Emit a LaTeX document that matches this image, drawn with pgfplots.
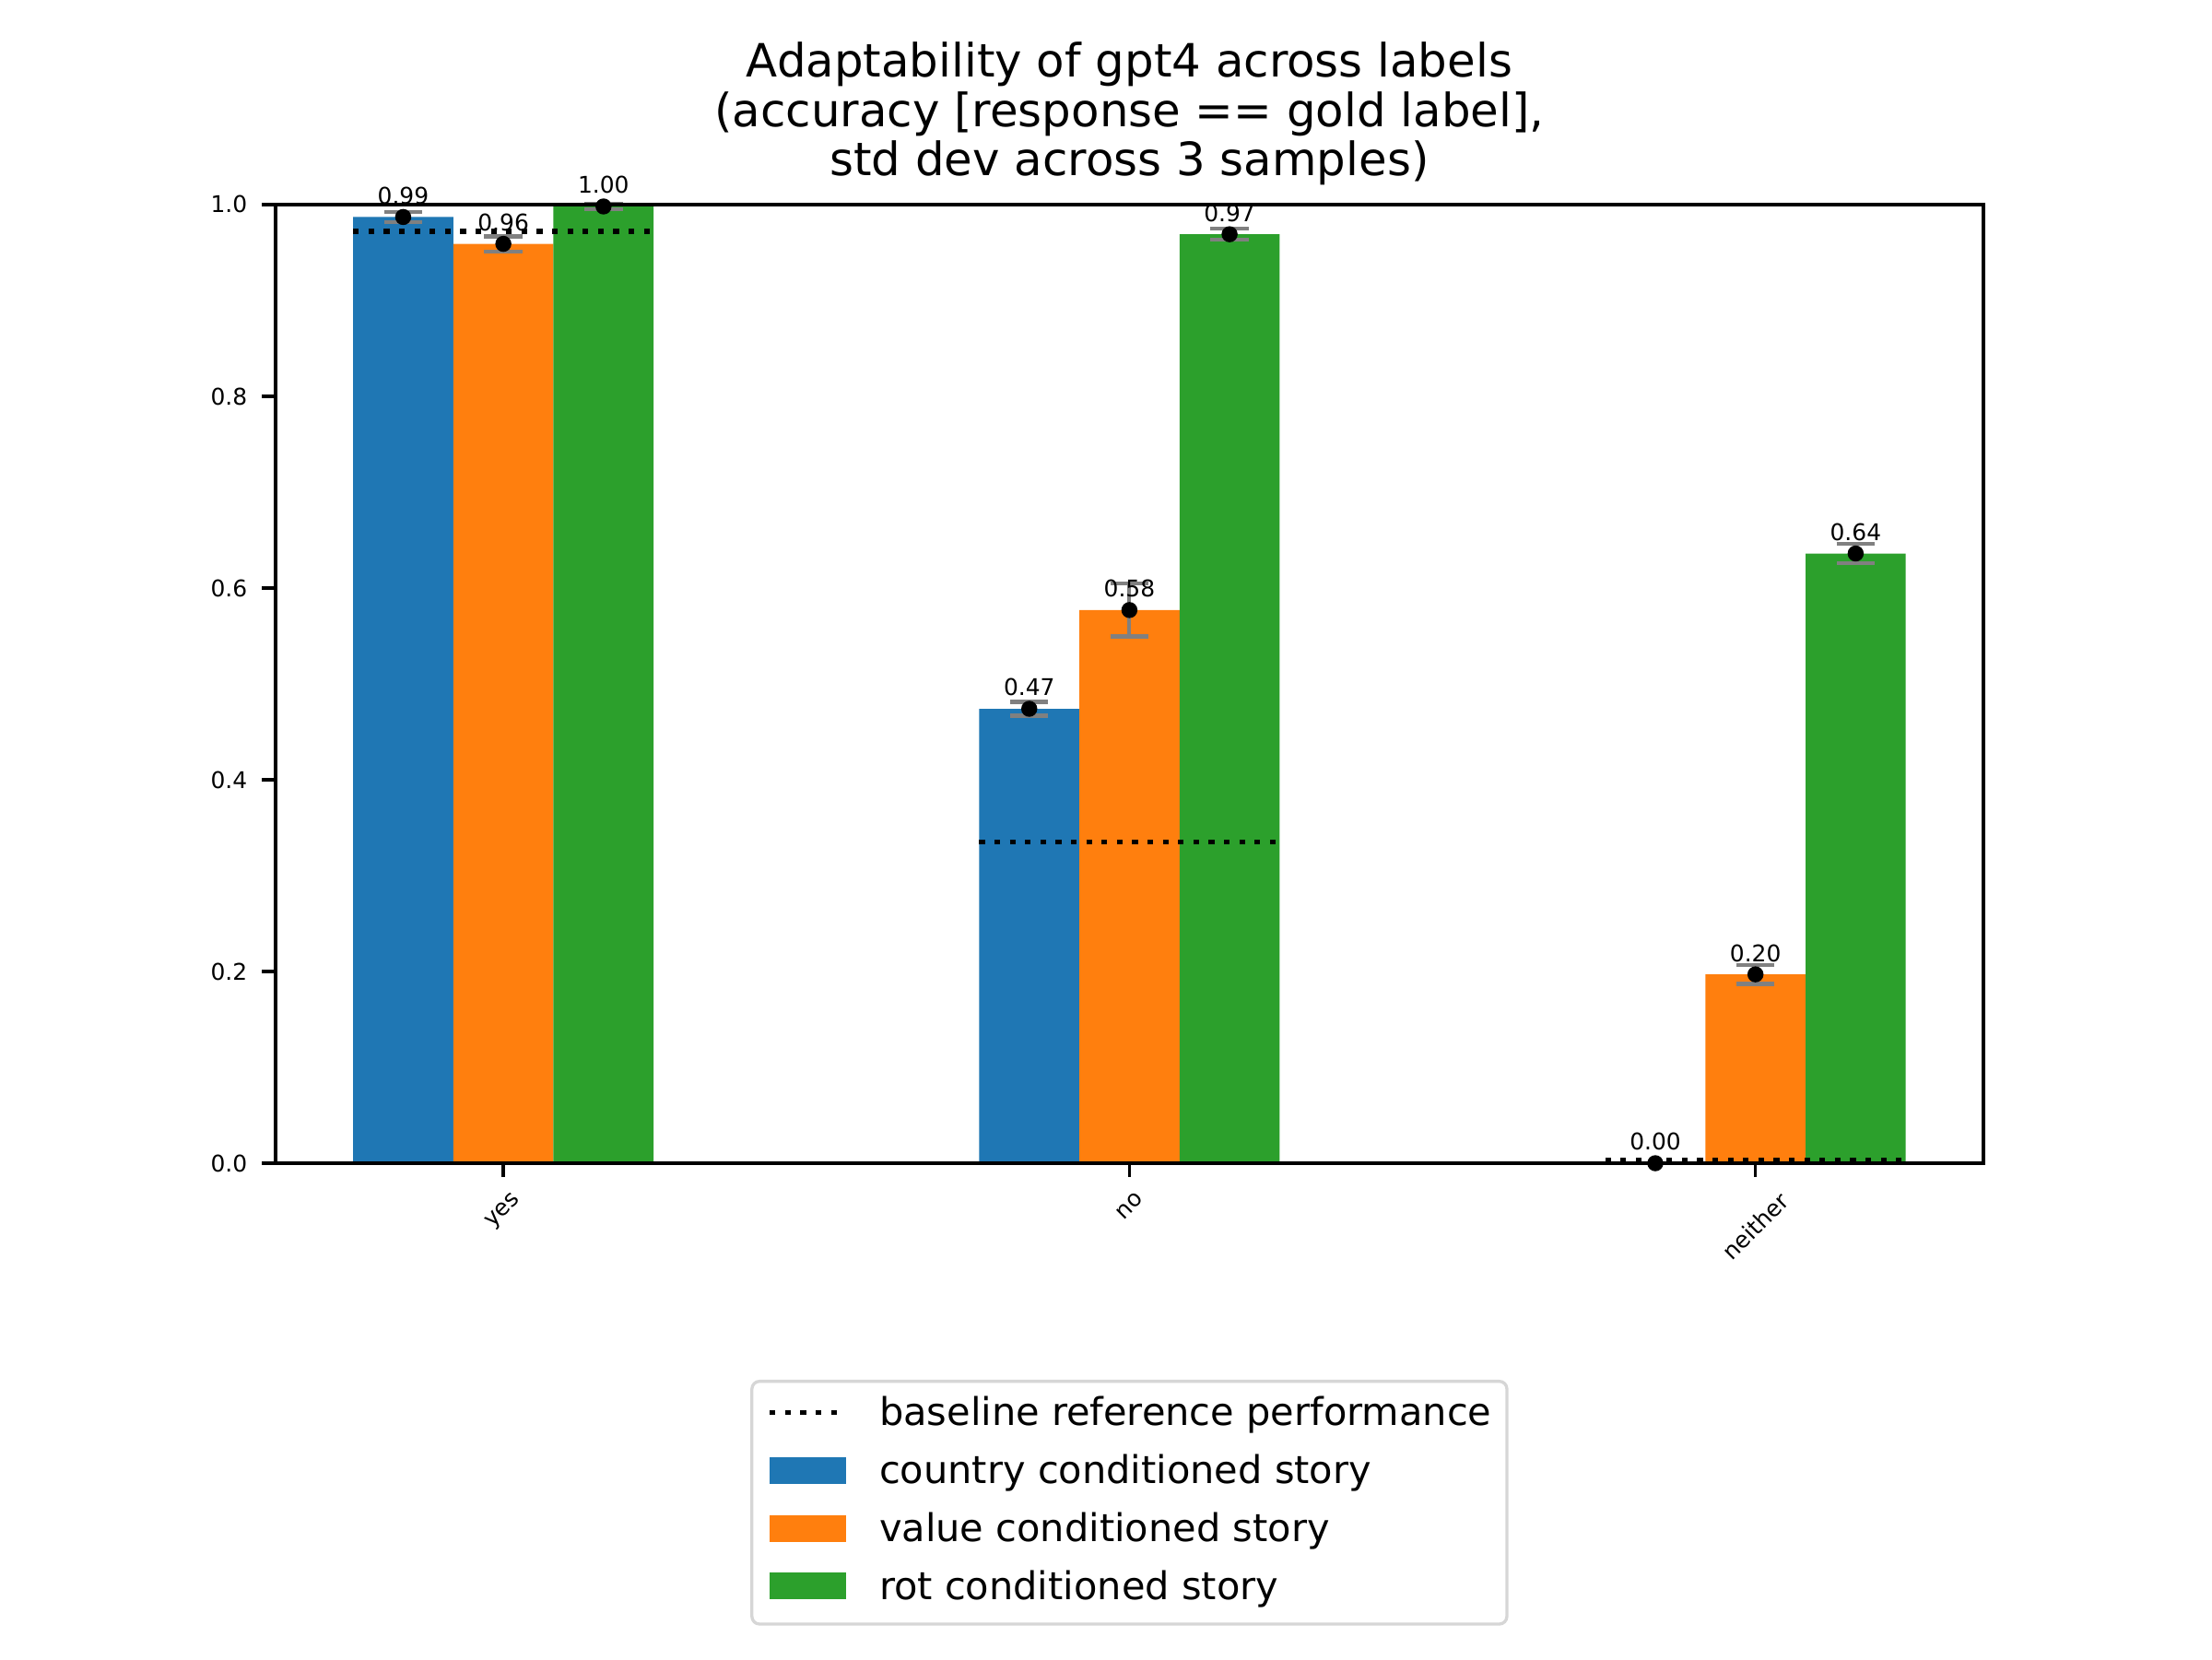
\documentclass[border=0pt]{standalone}
\usepackage{fontspec}
\setmainfont{DejaVu Sans}
\usepackage{graphicx}
\usepackage{pgfplots}
\usepackage{pgfplotstable}
\pgfplotsset{compat=1.18}
\definecolor{c1}{HTML}{1F77B4}
\definecolor{c2}{HTML}{FF7F0E}
\definecolor{c3}{HTML}{2CA02C}
\definecolor{eb}{HTML}{808080}
\definecolor{lg}{HTML}{D6D6D6}

\pgfplotstableread{
x y e label
-0.16 0.987 0.0053 0.99
0.84 0.474 0.0072 0.47
1.84 0.000 0.0 0.00
}\country
\pgfplotstableread{
x y e label
0 0.959 0.0078 0.96
1 0.577 0.0275 0.58
2 0.197 0.0100 0.20
}\valuet
\pgfplotstableread{
x y e label
0.16 0.998 0.003 1.00
1.16 0.969 0.006 0.97
2.16 0.636 0.0102 0.64
}\rot

\pgfplotsset{
  dotstyle/.style={forget plot, only marks, mark=*, mark size=1.9pt, black,
  nodes near coords, point meta=explicit symbolic,
  nodes near coords style={font=\fontsize{6}{7}\selectfont, anchor=base, inner sep=0pt, yshift=3.4pt, black},
  error bars/.cd, y dir=both, y explicit,
  error bar style={eb, line width=1pt},
  error mark options={eb, rotate=90, mark size=5pt, line width=1pt}},
  basestyle/.style={forget plot, black, line width=1.3pt, dash pattern=on 1.5pt off 2.5pt},
  baselegend/.style={legend image code/.code={\draw[black, sharp corners, line width=1.3pt, dash pattern=on 1.5pt off 2.5pt] (0pt,0.9pt) -- (20pt,0.9pt);}},
  barlegend/.style={legend image code/.code={\fill[##1, sharp corners] (0pt,-2.6pt) rectangle (20pt,4.4pt);}},
}

\begin{document}
\begin{tikzpicture}
\begin{axis}[
  name=ax,
  scale only axis,
  width=446.4pt, height=250.56pt,
  xmin=-0.364, xmax=2.364,
  ymin=0, ymax=1,
  clip=false,
  axis on top,
  xtick={0,1,2},
  xticklabels={\rotatebox{45}{yes},\rotatebox{45}{no},\rotatebox{45}{neither}},
  ytick={0,0.2,0.4,0.6,0.8,1.0},
  yticklabel style={/pgf/number format/fixed, /pgf/number format/fixed zerofill, /pgf/number format/precision=1},
  /pgf/number format/assume math mode=true,
  tick label style={font=\fontsize{6}{7}\selectfont, inner sep=0pt},
  xticklabel style={anchor=north, yshift=-3.6pt},
  yticklabel style={anchor=east, xshift=-3.7pt},
  tick align=outside,
  xtick pos=bottom, ytick pos=left,
  major tick length=3.5pt,
  every tick/.style={black, line width=0.8pt},
  axis line style={line width=0.8pt},
  every axis title/.style={at={(0.5,1)}, anchor=south, inner sep=0pt, yshift=4.8pt, align=center, font=\fontsize{12}{12.9}\selectfont},
  title={Adaptability of gpt4 across labels\\(accuracy [response == gold label],\\std dev across 3 samples)},
  legend cell align=left,
  legend style={at={(0.5,0)}, anchor=north, yshift=-56.6pt, draw=lg, line width=0.8pt, rounded corners=2pt, fill=white,
    font=\fontsize{10}{12}\selectfont, inner xsep=4pt, inner ysep=4pt, row sep=5.15pt,
    nodes={inner sep=0pt, text height=7.6pt, text depth=2.4pt},
    /tikz/every odd column/.append style={column sep=8pt}},
]
\addlegendimage{baselegend}
\addlegendentry{baseline reference performance}

\addplot[ybar, bar width=0.16, bar shift=0pt, draw=none, fill=c1, barlegend] table[x=x,y=y] {\country};
\addlegendentry{country conditioned story}
\addplot[ybar, bar width=0.16, bar shift=0pt, draw=none, fill=c2, barlegend] table[x=x,y=y] {\valuet};
\addlegendentry{value conditioned story}
\addplot[ybar, bar width=0.16, bar shift=0pt, draw=none, fill=c3, barlegend] table[x=x,y=y] {\rot};
\addlegendentry{rot conditioned story}

% baselines
\addplot[basestyle] coordinates {(-0.24,0.972) (0.24,0.972)};
\addplot[basestyle] coordinates {(0.76,0.335) (1.24,0.335)};
\addplot[basestyle] coordinates {(1.76,0.003) (2.24,0.003)};

% error bars, dots and labels
\addplot[dotstyle] table[x=x, y=y, y error=e, meta=label] {\country};
\addplot[dotstyle] table[x=x, y=y, y error=e, meta=label] {\valuet};
\addplot[dotstyle] table[x=x, y=y, y error=e, meta=label] {\rot};
\end{axis}
\pgfresetboundingbox
\path[use as bounding box] (ax.south west) ++(-72pt,-129.6pt) rectangle ++(578.16pt,433.62pt);
\end{tikzpicture}
\end{document}
